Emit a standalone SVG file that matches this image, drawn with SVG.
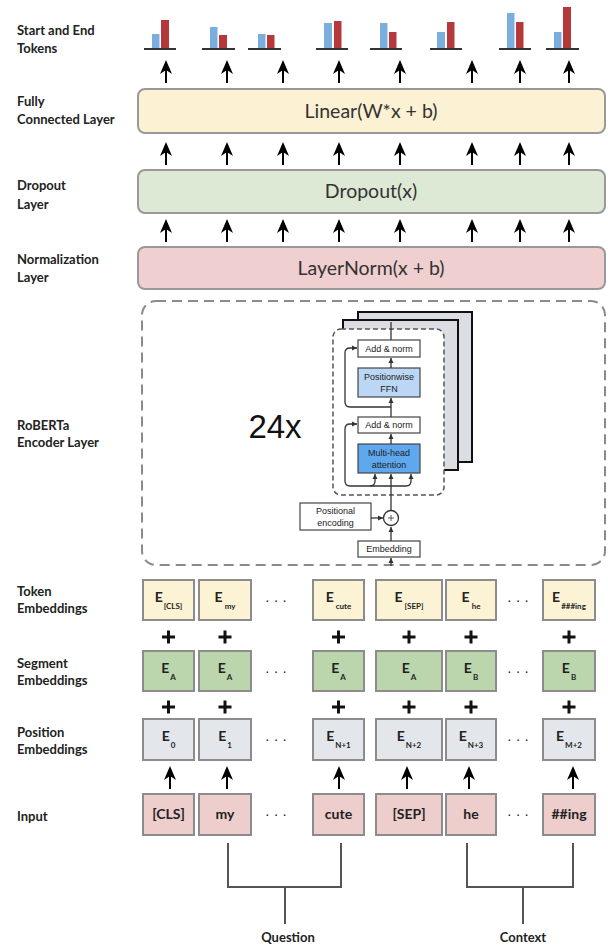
<svg xmlns="http://www.w3.org/2000/svg" xmlns:xlink="http://www.w3.org/1999/xlink" width="608" height="946" viewBox="0 0 608 946">
<style>
.lbl{font-family:Lato,"Open Sans","Liberation Sans",sans-serif;font-size:13px;font-weight:700;fill:#222}
.layer{stroke:#999;stroke-width:2}
.big{font-family:Lato,"Open Sans","Liberation Sans",sans-serif;font-size:19.5px;fill:#333;text-anchor:middle}
.emb{stroke:#8c8c8c;stroke-width:2}
.et{font-family:Lato,"Open Sans","Liberation Sans",sans-serif;font-size:14px;font-weight:700;fill:#222;text-anchor:middle}
.sub{font-size:8px}
.dots{font-family:"Liberation Sans",sans-serif;font-size:14px;fill:#222;text-anchor:middle}
.plus{stroke:#111;stroke-width:3}
.blue{fill:#7aaedd}
.red{fill:#b5383a}
.base{stroke:#333;stroke-width:2}
.tb{fill:#fff;stroke:#444;stroke-width:1.2}
.tt{font-family:"Liberation Sans",Arial,sans-serif;font-size:9px;fill:#222;text-anchor:middle}
.wire{fill:none;stroke:#333;stroke-width:1.3}
.brk{fill:none;stroke:#555;stroke-width:2}
</style>
<defs>
<g id="up"><line x1="0" y1="23" x2="0" y2="7" stroke="#000" stroke-width="2"/><path d="M0,0 L6,14 L0,10 L-6,14 Z" fill="#000"/></g>
<marker id="sm" markerUnits="userSpaceOnUse" markerWidth="6" markerHeight="6" refX="5" refY="3" orient="auto-start-reverse"><path d="M0,0.5 L5,3 L0,5.5 Z" fill="#333"/></marker>
</defs>

<!-- labels -->
<g id="labels">
<text class="lbl" x="17" y="35">Start and End</text><text class="lbl" x="17" y="53">Tokens</text>
<text class="lbl" x="17" y="106">Fully</text><text class="lbl" x="17" y="124">Connected Layer</text>
<text class="lbl" x="17" y="190">Dropout</text><text class="lbl" x="17" y="209">Layer</text>
<text class="lbl" x="17" y="264">Normalization</text><text class="lbl" x="17" y="282">Layer</text>
<text class="lbl" x="17" y="430">RoBERTa</text><text class="lbl" x="17" y="447">Encoder Layer</text>
<text class="lbl" x="17" y="596">Token</text><text class="lbl" x="17" y="613">Embeddings</text>
<text class="lbl" x="17" y="668">Segment</text><text class="lbl" x="17" y="685">Embeddings</text>
<text class="lbl" x="17" y="737">Position</text><text class="lbl" x="17" y="754">Embeddings</text>
<text class="lbl" x="17" y="821">Input</text>
</g>

<!-- output bars -->
<g id="bars">
<rect class="blue" x="152" y="34" width="7.5" height="15"/><rect class="red" x="161" y="20" width="8" height="29"/><line class="base" x1="144" y1="49" x2="176" y2="49"/>
<rect class="blue" x="210" y="27" width="7.5" height="22"/><rect class="red" x="219" y="35" width="8" height="14"/><line class="base" x1="202" y1="49" x2="235" y2="49"/>
<rect class="blue" x="258" y="34" width="7.5" height="15"/><rect class="red" x="267" y="35" width="7.5" height="14"/><line class="base" x1="248" y1="49" x2="281" y2="49"/>
<rect class="blue" x="324" y="23" width="8" height="26"/><rect class="red" x="334" y="21" width="7.5" height="28"/><line class="base" x1="316" y1="49" x2="348" y2="49"/>
<rect class="blue" x="380" y="23" width="7.5" height="26"/><rect class="red" x="389" y="32" width="7.5" height="17"/><line class="base" x1="370" y1="49" x2="402" y2="49"/>
<rect class="blue" x="437" y="32" width="8" height="17"/><rect class="red" x="447" y="22" width="7.5" height="27"/><line class="base" x1="430" y1="49" x2="462" y2="49"/>
<rect class="blue" x="507" y="13" width="7.5" height="36"/><rect class="red" x="516" y="22" width="7.5" height="27"/><line class="base" x1="499" y1="49" x2="531" y2="49"/>
<rect class="blue" x="554" y="32" width="7.5" height="17"/><rect class="red" x="563" y="7" width="8" height="42"/><line class="base" x1="546" y1="49" x2="579" y2="49"/>
</g>

<!-- layers -->
<g id="linear"><rect class="layer" x="138" y="89" width="467" height="44" rx="7" fill="#fcf1d3"/><text class="big" x="371" y="118">Linear(W*x + b)</text></g>
<g id="dropout"><rect class="layer" x="138" y="170" width="467" height="43" rx="7" fill="#dde8d5"/><text class="big" x="371" y="198">Dropout(x)</text></g>
<g id="layernorm"><rect class="layer" x="138" y="247" width="467" height="42" rx="7" fill="#efcfcf"/><text class="big" x="371" y="275">LayerNorm(x + b)</text></g>

<!-- encoder -->
<g id="encoder">
<rect x="142" y="301" width="463" height="264" rx="14" fill="none" stroke="#8a8a8a" stroke-width="2" stroke-dasharray="10 6"/>
<text x="275" y="438" font-family="'Liberation Sans',Arial,sans-serif" font-size="33" fill="#111" text-anchor="middle">24x</text>
<rect x="358" y="312" width="114" height="150" fill="#dadde2" stroke="#111" stroke-width="2"/>
<rect x="343" y="320" width="115" height="150" fill="#dadde2" stroke="#111" stroke-width="2"/>
<rect x="333" y="329" width="111" height="166" rx="8" fill="#fff" stroke="#555" stroke-width="1.5" stroke-dasharray="5 3"/>
<path class="wire" d="M391,340 V322"/>
<rect class="tb" x="358" y="340" width="62" height="17"/><text class="tt" x="389" y="352">Add &amp; norm</text>
<rect class="tb" x="358" y="368" width="62" height="29" style="fill:#bcd7f5"/><text class="tt" x="389" y="380">Positionwise</text><text class="tt" x="389" y="392">FFN</text>
<rect class="tb" x="358" y="417" width="62" height="16"/><text class="tt" x="389" y="428">Add &amp; norm</text>
<rect class="tb" x="358" y="444" width="62" height="29" style="fill:#5fa8ee"/><text class="tt" x="389" y="456">Multi-head</text><text class="tt" x="389" y="468">attention</text>
<path class="wire" d="M391,368 V358" marker-end="url(#sm)"/>
<path class="wire" d="M391,417 V398" marker-end="url(#sm)"/>
<path class="wire" d="M391,444 V434" marker-end="url(#sm)"/>
<path class="wire" d="M391,407 H350 Q345,407 345,402 V353 Q345,348 350,348 H357" marker-end="url(#sm)"/>
<path class="wire" d="M391,510 V474" marker-end="url(#sm)"/>
<path class="wire" d="M411,474 V481 Q411,486 406,486 H350 Q345,486 345,481 V429 Q345,424 350,424 H357" marker-start="url(#sm)" marker-end="url(#sm)"/>
<path class="wire" d="M370,486 Q375,486 375,481 V474" marker-end="url(#sm)"/>
<circle cx="391" cy="518" r="7.5" fill="#fff" stroke="#333" stroke-width="1.3"/>
<path d="M388,518 H394 M391,515 V521" stroke="#333" stroke-width="0.8"/>
<rect class="tb" x="300" y="503" width="71" height="27"/><text class="tt" x="335.5" y="514">Positional</text><text class="tt" x="335.5" y="526">encoding</text>
<path class="wire" d="M371,518 H383" marker-end="url(#sm)"/>
<rect class="tb" x="358" y="541" width="62" height="16"/><text class="tt" x="389" y="552">Embedding</text>
<path class="wire" d="M391,541 V527" marker-end="url(#sm)"/>
<path class="wire" d="M391,566 V558" marker-end="url(#sm)"/>
</g>

<!-- token embeddings -->
<g id="tok">
<rect class="emb" x="143" y="580" width="51" height="40" fill="#fcf2d4"/><text class="et" x="168.5" y="602">E<tspan class="sub" dx="1" dy="7">[CLS]</tspan></text>
<rect class="emb" x="199" y="580" width="52" height="40" fill="#fcf2d4"/><text class="et" x="225" y="602">E<tspan class="sub" dx="2" dy="7">my</tspan></text>
<rect class="emb" x="313" y="580" width="51" height="40" fill="#fcf2d4"/><text class="et" x="338.5" y="602">E<tspan class="sub" dx="2" dy="7">cute</tspan></text>
<rect class="emb" x="376" y="580" width="66" height="40" fill="#fcf2d4"/><text class="et" x="409" y="602">E<tspan class="sub" dx="2" dy="7">[SEP]</tspan></text>
<rect class="emb" x="446" y="580" width="50" height="40" fill="#fcf2d4"/><text class="et" x="471" y="602">E<tspan class="sub" dx="2" dy="7">he</tspan></text>
<rect class="emb" x="543" y="580" width="52" height="40" fill="#fcf2d4"/><text class="et" x="569" y="602">E<tspan class="sub" dx="1" dy="7">###ing</tspan></text>
<text class="dots" x="276" y="605">· · ·</text><text class="dots" x="518" y="605">· · ·</text>
</g>

<!-- segment embeddings -->
<g id="seg">
<rect class="emb" x="143" y="651" width="51" height="40" fill="#bbd6ad"/><text class="et" x="168.5" y="673">E<tspan class="sub" dx="1" dy="7">A</tspan></text>
<rect class="emb" x="199" y="651" width="52" height="40" fill="#bbd6ad"/><text class="et" x="225" y="673">E<tspan class="sub" dx="1" dy="7">A</tspan></text>
<rect class="emb" x="313" y="651" width="51" height="40" fill="#bbd6ad"/><text class="et" x="338.5" y="673">E<tspan class="sub" dx="1" dy="7">A</tspan></text>
<rect class="emb" x="376" y="651" width="66" height="40" fill="#bbd6ad"/><text class="et" x="409" y="673">E<tspan class="sub" dx="1" dy="7">A</tspan></text>
<rect class="emb" x="446" y="651" width="50" height="40" fill="#bbd6ad"/><text class="et" x="471" y="673">E<tspan class="sub" dx="1" dy="7">B</tspan></text>
<rect class="emb" x="543" y="651" width="52" height="40" fill="#bbd6ad"/><text class="et" x="569" y="673">E<tspan class="sub" dx="1" dy="7">B</tspan></text>
<text class="dots" x="276" y="676">· · ·</text><text class="dots" x="518" y="676">· · ·</text>
</g>

<!-- position embeddings -->
<g id="pos">
<rect class="emb" x="143" y="719" width="51" height="41" fill="#e3e6ea"/><text class="et" x="168.5" y="741">E<tspan class="sub" dx="1" dy="7">0</tspan></text>
<rect class="emb" x="199" y="719" width="52" height="41" fill="#e3e6ea"/><text class="et" x="225" y="741">E<tspan class="sub" dx="1" dy="7">1</tspan></text>
<rect class="emb" x="313" y="719" width="51" height="41" fill="#e3e6ea"/><text class="et" x="338.5" y="741">E<tspan class="sub" dx="1" dy="7">N+1</tspan></text>
<rect class="emb" x="376" y="719" width="66" height="41" fill="#e3e6ea"/><text class="et" x="409" y="741">E<tspan class="sub" dx="1" dy="7">N+2</tspan></text>
<rect class="emb" x="446" y="719" width="50" height="41" fill="#e3e6ea"/><text class="et" x="471" y="741">E<tspan class="sub" dx="1" dy="7">N+3</tspan></text>
<rect class="emb" x="543" y="719" width="52" height="41" fill="#e3e6ea"/><text class="et" x="569" y="741">E<tspan class="sub" dx="1" dy="7">M+2</tspan></text>
<text class="dots" x="276" y="744">· · ·</text><text class="dots" x="518" y="744">· · ·</text>
</g>

<!-- input -->
<g id="input">
<rect class="emb" x="143" y="794" width="51" height="41" fill="#eecdcd"/><text class="et" x="168.5" y="819">[CLS]</text>
<rect class="emb" x="199" y="794" width="52" height="41" fill="#eecdcd"/><text class="et" x="225" y="819">my</text>
<rect class="emb" x="313" y="794" width="51" height="41" fill="#eecdcd"/><text class="et" x="338.5" y="819">cute</text>
<rect class="emb" x="376" y="794" width="66" height="41" fill="#eecdcd"/><text class="et" x="409" y="819">[SEP]</text>
<rect class="emb" x="446" y="794" width="50" height="41" fill="#eecdcd"/><text class="et" x="471" y="819">he</text>
<rect class="emb" x="543" y="794" width="52" height="41" fill="#eecdcd"/><text class="et" x="569" y="819">##ing</text>
<text class="dots" x="276" y="819">· · ·</text><text class="dots" x="518" y="819">· · ·</text>
</g>

<!-- connectors -->
<g id="connectors">
<use xlink:href="#up" x="166" y="60"/><use xlink:href="#up" x="227" y="60"/><use xlink:href="#up" x="283" y="60"/><use xlink:href="#up" x="339" y="60"/>
<use xlink:href="#up" x="400" y="60"/><use xlink:href="#up" x="472" y="60"/><use xlink:href="#up" x="520" y="60"/><use xlink:href="#up" x="569" y="60"/>
<use xlink:href="#up" x="166" y="142"/><use xlink:href="#up" x="227" y="142"/><use xlink:href="#up" x="283" y="142"/><use xlink:href="#up" x="339" y="142"/>
<use xlink:href="#up" x="400" y="142"/><use xlink:href="#up" x="472" y="142"/><use xlink:href="#up" x="520" y="142"/><use xlink:href="#up" x="569" y="142"/>
<use xlink:href="#up" x="166" y="219"/><use xlink:href="#up" x="227" y="219"/><use xlink:href="#up" x="283" y="219"/><use xlink:href="#up" x="339" y="219"/>
<use xlink:href="#up" x="400" y="219"/><use xlink:href="#up" x="472" y="219"/><use xlink:href="#up" x="520" y="219"/><use xlink:href="#up" x="569" y="219"/>
<use xlink:href="#up" x="170" y="766"/><use xlink:href="#up" x="227" y="766"/><use xlink:href="#up" x="339" y="766"/><use xlink:href="#up" x="407" y="766"/><use xlink:href="#up" x="469" y="766"/><use xlink:href="#up" x="573" y="766"/>
<path class="plus" d="M162,637 H175 M168.5,630.5 V643.5 M218.5,637 H231.5 M225,630.5 V643.5 M332,637 H345 M338.5,630.5 V643.5 M402.5,637 H415.5 M409,630.5 V643.5 M464.5,637 H477.5 M471,630.5 V643.5 M562.5,637 H575.5 M569,630.5 V643.5"/>
<path class="plus" d="M162,707 H175 M168.5,700.5 V713.5 M218.5,707 H231.5 M225,700.5 V713.5 M332,707 H345 M338.5,700.5 V713.5 M402.5,707 H415.5 M409,700.5 V713.5 M464.5,707 H477.5 M471,700.5 V713.5 M562.5,707 H575.5 M569,700.5 V713.5"/>
<path class="brk" d="M228,843 V887 H341 V843 M285,887 V924"/>
<path class="brk" d="M467,843 V887 H573 V843 M523,887 V924"/>
</g>
<g id="groups">
<text class="lbl" x="288" y="942" text-anchor="middle">Question</text>
<text class="lbl" x="523" y="942" text-anchor="middle">Context</text>
</g>
</svg>
